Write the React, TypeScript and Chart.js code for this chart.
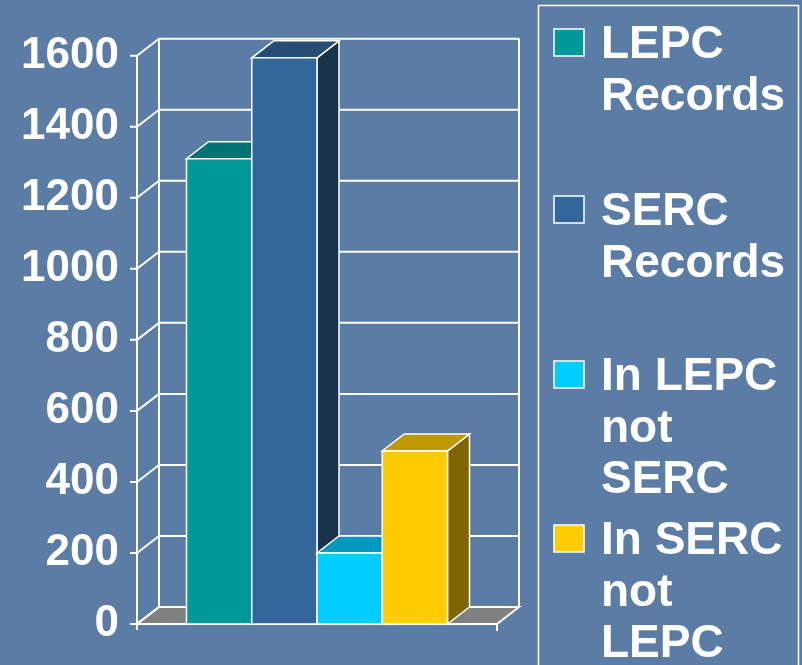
import React, { useEffect, useRef } from "react";
import { Chart, registerables } from "chart.js";

Chart.register(...registerables);

// ---------- data ----------
const categories = ["Records"];
const seriesNames = ["LEPC Records", "SERC Records", "In LEPC not SERC", "In SERC not LEPC"];
const legendLines = [
  ["LEPC", "Records"],
  ["SERC", "Records"],
  ["In LEPC", "not", "SERC"],
  ["In SERC", "not", "LEPC"],
];
const lepcRecords = [1310];
const sercRecords = [1594];
const inLepcNotSerc = [200];
const inSercNotLepc = [487];
const yMin = 0;
const yMax = 1600;
const yStep = 200;

// ---------- styles ----------
const frontColors = ["#009999", "#336699", "#00ccff", "#ffcc00"];
const topColors = ["#007373", "#264d73", "#0099bf", "#bf9900"];
const sideColors = ["#004d4d", "#1a334d", "#006680", "#806600"];
const BG = "#5b7ca4";
const FONT = '"Liberation Sans", Arial, sans-serif';
const DX = 22;
const DY = -17;

const threeDPlugin = {
  id: "threeD",
  beforeDraw(chart: any) {
    const { ctx, width, height } = chart;
    ctx.save();
    ctx.fillStyle = BG;
    ctx.fillRect(0, 0, width, height);
    ctx.restore();
  },
  beforeDatasetsDraw(chart: any) {
    const { ctx, chartArea } = chart;
    const ys = chart.scales.y;
    const L = chartArea.left;
    const R = chartArea.right;
    const y0 = ys.getPixelForValue(yMin);
    const yT = ys.getPixelForValue(yMax);
    ctx.save();
    ctx.lineWidth = 2;
    ctx.strokeStyle = "#ffffff";
    // floor
    ctx.beginPath();
    ctx.moveTo(L, y0);
    ctx.lineTo(R, y0);
    ctx.lineTo(R + DX, y0 + DY);
    ctx.lineTo(L + DX, y0 + DY);
    ctx.closePath();
    ctx.fillStyle = "#808080";
    ctx.fill();
    ctx.stroke();
    // back wall gridlines, diagonals, ticks
    ys.ticks.forEach((t: any) => {
      const yf = ys.getPixelForValue(t.value);
      ctx.beginPath();
      ctx.moveTo(L + DX, yf + DY);
      ctx.lineTo(R + DX, yf + DY);
      ctx.moveTo(L, yf);
      ctx.lineTo(L + DX, yf + DY);
      ctx.moveTo(L - 7, yf);
      ctx.lineTo(L, yf);
      ctx.stroke();
    });
    ctx.beginPath();
    ctx.moveTo(L + DX, y0 + DY);
    ctx.lineTo(L + DX, yT + DY);
    ctx.moveTo(R + DX, y0 + DY);
    ctx.lineTo(R + DX, yT + DY);
    ctx.moveTo(L, y0 + 6);
    ctx.lineTo(L, yT);
    ctx.moveTo(R, y0);
    ctx.lineTo(R, y0 + 7);
    ctx.stroke();
    ctx.restore();
  },
  afterDatasetsDraw(chart: any) {
    const { ctx } = chart;
    ctx.save();
    ctx.lineWidth = 1.5;
    ctx.strokeStyle = "#ffffff";
    chart.data.datasets.forEach((ds: any, i: number) => {
      const meta = chart.getDatasetMeta(i);
      meta.data.forEach((el: any) => {
        const { x, y, base, width } = el.getProps(["x", "y", "base", "width"], true);
        const l = x - width / 2;
        const r = x + width / 2;
        ctx.beginPath();
        ctx.moveTo(r, y);
        ctx.lineTo(r + DX, y + DY);
        ctx.lineTo(r + DX, base + DY);
        ctx.lineTo(r, base);
        ctx.closePath();
        ctx.fillStyle = sideColors[i];
        ctx.fill();
        ctx.stroke();
        ctx.beginPath();
        ctx.moveTo(l, y);
        ctx.lineTo(r, y);
        ctx.lineTo(r + DX, y + DY);
        ctx.lineTo(l + DX, y + DY);
        ctx.closePath();
        ctx.fillStyle = topColors[i];
        ctx.fill();
        ctx.stroke();
        ctx.beginPath();
        ctx.rect(l, y, width, base - y);
        ctx.fillStyle = frontColors[i];
        ctx.fill();
        ctx.stroke();
      });
    });
    ctx.restore();
  },
  afterDraw(chart: any) {
    const { ctx } = chart;
    ctx.save();
    ctx.strokeStyle = "#ffffff";
    ctx.lineWidth = 1.5;
    ctx.strokeRect(538.5, 5.5, 260, 700);
    const slotBaselines = [58, 225, 390, 554];
    ctx.font = `bold 46px ${FONT}`;
    ctx.textAlign = "left";
    ctx.textBaseline = "alphabetic";
    chart.data.datasets.forEach((ds: any, i: number) => {
      const b = slotBaselines[i];
      ctx.fillStyle = frontColors[i];
      ctx.fillRect(554, b - 29, 30, 27);
      ctx.strokeRect(554, b - 29, 30, 27);
      ctx.fillStyle = "#ffffff";
      legendLines[i].forEach((line, k) => {
        ctx.fillText(line, 601, b + k * 51.5);
      });
    });
    ctx.restore();
  },
};

export default function App() {
  const ref = useRef<HTMLCanvasElement>(null);
  useEffect(() => {
    if (!ref.current) return;
    const seriesValues = [lepcRecords, sercRecords, inLepcNotSerc, inSercNotLepc];
    const chart = new Chart(ref.current, {
      type: "bar",
      data: {
        labels: categories,
        datasets: seriesValues.map((vals, i) => ({
          label: seriesNames[i],
          data: vals,
          backgroundColor: frontColors[i],
          borderColor: "#ffffff",
          borderWidth: 1.5,
          categoryPercentage: 0.725,
          barPercentage: 1,
        })),
      },
      options: {
        responsive: false,
        animation: false,
        layout: { padding: { left: 0, right: 305, top: 55.7, bottom: 41 } },
        plugins: { legend: { display: false }, tooltip: { enabled: false } },
        scales: {
          x: { display: false },
          y: {
            min: yMin,
            max: yMax,
            ticks: {
              stepSize: yStep,
              color: "#ffffff",
              padding: 0,
              font: { family: FONT, size: 44, weight: "bold" },
              callback: (v: any) => String(v),
            },
            grid: { display: false, drawTicks: true, tickLength: 18 },
            border: { display: false },
            afterFit: (scale: any) => {
              scale.width = 137;
            },
          },
        },
      },
      plugins: [threeDPlugin],
    });
    return () => chart.destroy();
  }, []);
  return (
    <div style={{ position: "absolute", left: 0, top: 0, width: 802, height: 665, background: BG }}>
      <canvas ref={ref} width={802} height={665} />
    </div>
  );
}
